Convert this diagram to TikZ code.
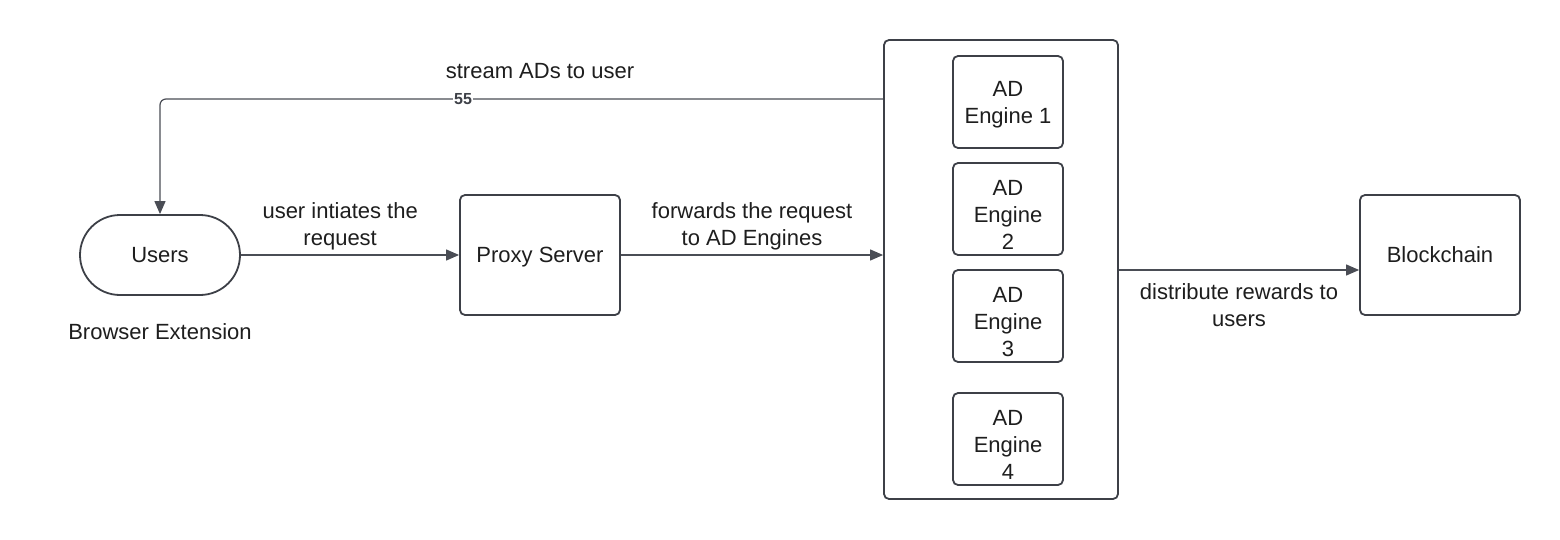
\documentclass[tikz,border=0pt]{standalone}
\usepackage{fontspec}
\setmainfont{Liberation Sans}
\usetikzlibrary{arrows.meta}
\definecolor{ln}{HTML}{4A4D55}
\definecolor{bd}{HTML}{3D4047}
\definecolor{tx}{HTML}{1E1E1E}
\begin{document}
\begin{tikzpicture}[x=1pt,y=-1pt,
  every node/.style={font=\fontsize{22}{27}\selectfont, text=tx},
  box/.style={draw=bd, line width=1.8pt, rounded corners=5pt, fill=white, align=center},
  one/.style={text depth=0pt},
  eng/.style={box, minimum width=110pt, minimum height=92pt},
  etxt/.style={align=center, inner sep=0pt, yshift=-6pt},
  conn/.style={draw=ln, line width=1.2pt, -{Triangle[length=13pt,width=11pt]}},
  lbl/.style={align=center, inner sep=2pt}]
\path[use as bounding box, fill=white] (0,0) rectangle (1560,540);

\node[box, one, rounded corners=40pt, minimum width=160pt, minimum height=80pt] (users) at (160,255) {Users};
\node (be) at (160,332) {Browser Extension};
\node[box, one, minimum width=160pt, minimum height=120pt] (px) at (540,255) {Proxy Server};
\node[box, minimum width=234pt, minimum height=459pt] (cont) at (1001,269.5) {};
\node[eng, label={[etxt, yshift=3pt]center:AD\\Engine 1}] (e1) at (1008,102) {};
\node[eng, label={[etxt]center:AD\\Engine\\2}] (e2) at (1008,209) {};
\node[eng, label={[etxt]center:AD\\Engine\\3}] (e3) at (1008,316) {};
\node[eng, label={[etxt]center:AD\\Engine\\4}] (e4) at (1008,439) {};
\node[box, one, minimum width=160pt, minimum height=120pt] (bc) at (1440,255) {Blockchain};

\draw[conn] (users.east) -- node[lbl, above=2pt, pos=0.455] (l1) {user intiates the\\request} (px.west);
\draw[conn] (px.east) -- node[lbl, above=2pt] (l2) {forwards the request\\to AD Engines} (px.east -| cont.west);
\draw[conn] ([yshift=-15pt]bc.west -| cont.east) -- node[lbl, below=11pt] (l3) {distribute rewards to\\users} ([yshift=-15pt]bc.west);
\draw[conn, rounded corners=6pt] ([yshift=3pt]e1.west -| cont.west) -- ([yshift=3pt]e1.west -| users.north) -- (users.north);
\node[lbl] (l4) at (540,71) {stream ADs to user};
\node[fill=white, inner sep=1pt, font=\fontsize{16}{19}\selectfont\bfseries, text=bd] (n55) at (463,99) {55};
\end{tikzpicture}
\end{document}
